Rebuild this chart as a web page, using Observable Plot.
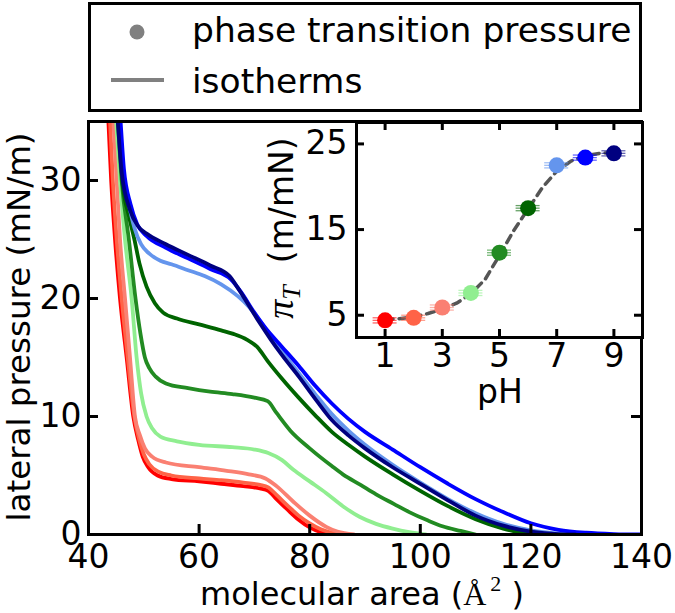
<!DOCTYPE html>
<html><head><meta charset="utf-8">
<script src="https://cdn.jsdelivr.net/npm/d3@7"></script>
<script src="https://cdn.jsdelivr.net/npm/@observablehq/plot@0.6"></script>
<style>
body{margin:0;background:#fff;}
#wrap{position:relative;width:675px;height:613px;overflow:hidden;font-family:"DejaVu Sans";}
#legend,#main,#inset{position:absolute;}
#legend{left:0;top:0;}
#main{left:0;top:112px;}
#inset{left:240px;top:112px;}
</style></head><body><div id="wrap"><div id="legend"></div><div id="main"></div><div id="inset"></div></div>
<script>
// ---------- data ----------
const phValues = [1, 2, 3, 4, 5, 6, 7, 8, 9];
const phColors = ["#ff0000", "#ff6347", "#fa8072", "#90ee90", "#228b22", "#006400", "#6495ed", "#0000ff", "#000080"];

// isotherms: [molecular area (Å²), lateral pressure (mN/m)]
const isotherm_pH1 = [[43.4,37],[43.6,35],[44.1,30],[44.8,25],[45.7,20],[46.9,15],[48.1,10],[49.0,8],[49.8,6.6],[50.8,5.7],[52.5,5.0],[55,4.7],[60,4.5],[64,4.3],[68,4.1],[71,3.9],[72.5,3.7],[74,3.0],[76,2.1],[78,1.25],[80,0.6],[82,0.2],[84,0]];
const isotherm_pH2 = [[43.7,37],[43.9,35],[44.4,30],[45.1,25],[46.0,20],[47.1,15],[48.3,10],[49.2,8],[50.0,6.8],[51.0,5.95],[52.7,5.3],[55,5.0],[60,4.75],[64,4.6],[68,4.4],[71,4.2],[72.5,4.0],[74,3.35],[76,2.45],[78,1.6],[80,0.95],[82,0.45],[84,0.15],[86,0]];
const isotherm_pH3 = [[44.2,37],[44.5,35],[45.1,30],[45.7,25],[46.6,20],[47.5,15],[48.4,10],[49.3,8.4],[50.2,7.3],[51.5,6.6],[54,6.1],[60,5.7],[65,5.4],[69,5.1],[72,4.75],[74,4.1],[77,2.8],[80,1.6],[83,0.65],[85,0.25],[88,0]];
const isotherm_pH4 = [[44.7,37],[45.0,35],[45.7,30],[46.6,25],[47.8,20],[48.7,15],[49.5,12],[50.5,10],[51.5,9],[53,8.3],[56,7.9],[60,7.6],[66,7.4],[70,7.2],[72.5,6.9],[75,6.3],[77,5.5],[80,4.5],[83,3.5],[86,2.4],[89,1.5],[92,0.9],[95,0.5],[98,0.2],[101,0]];
const isotherm_pH5 = [[45.0,37],[45.3,35],[46.0,30],[47.3,25],[48.5,20],[49.4,17],[50.2,15],[51,14.1],[52.1,13.4],[54,12.8],[58,12.4],[62,12.1],[66,11.9],[70,11.6],[72.4,11.3],[74,10.3],[76.5,8.8],[80,7.3],[84,5.8],[86,5.1],[89.2,4.2],[92,3.4],[95.2,2.6],[98,1.9],[101.3,1.2],[104,0.7],[107.3,0.3],[110,0]];
const isotherm_pH6 = [[45.2,37],[45.5,35],[46.1,30],[47.3,27],[48.3,25],[49.2,23],[50.5,21],[52,19.6],[53.5,18.8],[56,18.3],[60,17.8],[64,17.3],[66.2,17.0],[68.7,16.5],[70.5,15.9],[72.4,14.7],[75,13.2],[78,11.6],[81,10.1],[84,8.7],[87,7.6],[90,6.6],[95,5.1],[100,3.7],[105,2.4],[110,1.3],[115,0.5],[119,0.1],[122,0]];
const isotherm_pH7 = [[45.2,37],[45.5,35],[46.2,31],[47.3,28],[48.3,26],[49.5,24.6],[51,23.8],[53,23.2],[55,22.9],[58,22.4],[61,21.9],[64,21.2],[67,20.2],[69,19.3],[71,18.1],[73,16.8],[75,15.5],[78,13.7],[81,11.9],[84,10.2],[87,8.8],[90,7.6],[95,5.9],[100,4.4],[105,3.0],[110,1.8],[115,0.9],[120,0.35],[125,0.08],[130,0]];
const isotherm_pH8 = [[45.5,37],[45.8,35],[46.4,31],[47.6,28],[48.8,26.3],[50.5,25.3],[54,24.3],[58,23.4],[62,22.5],[65.8,21.6],[67.5,20.6],[70,18.8],[72,17.5],[75,15.9],[78,14.3],[81,12.6],[84,11.1],[87,9.8],[90,8.7],[95,7.2],[100,5.7],[105,4.3],[110,3.0],[115,1.9],[120,0.95],[125,0.4],[130,0.15],[135,0.04],[140,0]];
const isotherm_pH9 = [[45.0,37],[45.3,35],[46.0,30.7],[47.5,27.5],[49,26.1],[50.5,25.5],[54,24.6],[58,23.7],[62,22.8],[65.5,21.9],[67,20.9],[69,19.4],[71,17.9],[73,16.5],[75,15.2],[78,13.4],[81,11.5],[84,9.7],[87,8.4],[90,7.3],[95,5.7],[100,4.3],[105,2.9],[110,1.6],[115,0.75],[120,0.25],[125,0.03],[128,0]];
const isotherms = [isotherm_pH1, isotherm_pH2, isotherm_pH3, isotherm_pH4, isotherm_pH5, isotherm_pH6, isotherm_pH7, isotherm_pH8, isotherm_pH9];

// inset: phase transition pressure vs pH
const transitionPressure = [4.4, 4.7, 5.9, 7.6, 12.3, 17.5, 22.5, 23.4, 23.9];
const transitionError = [0.3, 0.3, 0.3, 0.3, 0.3, 0.3, 0.3, 0.3, 0.3];
const fitPH = [1, 1.5, 2, 2.5, 3, 3.5, 4, 4.5, 5, 5.5, 6, 6.5, 7, 7.5, 8, 8.5, 9];
const fitPressure = [4.5, 4.6, 4.8, 5.2, 5.7, 6.4, 7.5, 9.2, 12.0, 14.9, 17.4, 19.9, 21.8, 23.0, 23.6, 23.9, 24.0];

// ticks
const mainXTicks = [40, 60, 80, 100, 120, 140];
const mainYTicks = [0, 10, 20, 30];
const insetXTicks = [1, 3, 5, 7, 9];
const insetYTicks = [5, 15, 25];

// ---------- legend ----------
const lg = d3.create("svg").attr("width", 675).attr("height", 116).style("display", "block");
lg.append("rect").attr("x", 89.5).attr("y", 3.5).attr("width", 551).attr("height", 107)
  .attr("fill", "white").attr("stroke", "black").attr("stroke-width", 3);
lg.append("circle").attr("cx", 137).attr("cy", 32).attr("r", 7.5).attr("fill", "#808080");
lg.append("line").attr("x1", 111).attr("x2", 164).attr("y1", 80).attr("y2", 80)
  .attr("stroke", "#808080").attr("stroke-width", 4);
lg.append("text").attr("x", 192).attr("y", 42).attr("font-size", 34.5).attr("font-family", "DejaVu Sans").text("phase transition pressure");
lg.append("text").attr("x", 192).attr("y", 93).attr("font-size", 34.5).attr("font-family", "DejaVu Sans").text("isotherms");
document.getElementById("legend").append(lg.node());

// ---------- main plot ----------
const lineData = isotherms.flatMap((arr, i) => arr.map(([a, p]) => ({area: a, pressure: p, pH: phValues[i]})));
const mainTickLenY = 10 / 11.8;  // 10px in pressure units
const mainTickLenX = 10 / 5.53;  // 10px in area units

const main = Plot.plot({
  width: 675, height: 501,
  marginTop: 9, marginBottom: 79, marginLeft: 88, marginRight: 34,
  style: {fontFamily: "DejaVu Sans", fontSize: "33px", background: "none", color: "black", overflow: "visible"},
  x: {domain: [40, 140]},
  y: {domain: [0, 35]},
  color: {domain: phValues, range: phColors},
  marks: [
    Plot.line(lineData, {x: "area", y: "pressure", z: "pH", stroke: "pH", strokeWidth: 3.8, curve: "monotone-x", clip: true}),
    Plot.ruleX(mainXTicks.slice(1, -1), {x: d => d, y1: 0, y2: mainTickLenY, strokeWidth: 3}),
    Plot.ruleY(mainYTicks.slice(1), {y: d => d, x1: 40, x2: 40 + mainTickLenX, strokeWidth: 3}),
    Plot.ruleY(mainYTicks.slice(1), {y: d => d, x1: 140 - mainTickLenX, x2: 140, strokeWidth: 3}),
    Plot.frame({stroke: "black", strokeWidth: 3}),
    Plot.axisX(mainXTicks, {tickSize: 0, tickPadding: 10, fontSize: 33, label: null}),
    Plot.axisY(mainYTicks, {tickSize: 0, tickPadding: 7, fontSize: 33, label: null})
  ]
});
const ms = d3.select(main);
ms.append("text").attr("x", 362).attr("y", 493).attr("text-anchor", "middle")
  .attr("font-size", 32).attr("font-family", "DejaVu Sans")
  .call(t => {
    t.append("tspan").text("molecular area (");
    t.append("tspan").attr("font-family", "Liberation Serif").text("Å");
    t.append("tspan").attr("font-family", "Liberation Serif").attr("font-size", 22).attr("dy", -14).attr("dx", 4).text("2");
    t.append("tspan").attr("dy", 14).text(" )");
  });
ms.append("text").attr("transform", "translate(30,215) rotate(-90)").attr("text-anchor", "middle")
  .attr("font-size", 32.5).attr("font-family", "DejaVu Sans").text("lateral pressure (mN/m)");
document.getElementById("main").append(main);

// ---------- inset ----------
const pts = phValues.map((ph, i) => ({pH: ph, p: transitionPressure[i], e: transitionError[i], c: phColors[i]}));
const fitData = fitPH.map((ph, i) => ({pH: ph, p: fitPressure[i]}));
const insetTickLenY = 8 / 8.55;
const insetTickLenX = 8 / 28.6;
const capHalf = 0.42;

const inset = Plot.plot({
  width: 435, height: 300,
  marginLeft: 116, marginRight: 33, marginTop: 10, marginBottom: 75,
  style: {fontFamily: "DejaVu Sans", fontSize: "33px", background: "none", color: "black", overflow: "visible"},
  x: {domain: [0, 10]},
  y: {domain: [2.4, 27.5]},
  marks: [
    Plot.frame({fill: "white"}),
    Plot.line(fitData, {x: "pH", y: "p", stroke: "#555555", strokeWidth: 3.5, strokeDasharray: "8,6"}),
    Plot.ruleY(pts, {y: d => d.p + d.e, x1: d => d.pH - capHalf, x2: d => d.pH + capHalf, stroke: d => d.c, strokeOpacity: 0.6, strokeWidth: 1.3}),
    Plot.ruleY(pts, {y: d => d.p - d.e, x1: d => d.pH - capHalf, x2: d => d.pH + capHalf, stroke: d => d.c, strokeOpacity: 0.6, strokeWidth: 1.3}),
    Plot.ruleY(pts, {y: "p", x1: d => d.pH - capHalf, x2: d => d.pH + capHalf, stroke: d => d.c, strokeOpacity: 0.6, strokeWidth: 1.3}),
    Plot.dot(pts, {x: "pH", y: "p", fill: d => d.c, r: 8}),
    Plot.ruleX(insetXTicks, {x: d => d, y1: 2.4, y2: 2.4 + insetTickLenY, strokeWidth: 3}),
    Plot.ruleX(insetXTicks, {x: d => d, y1: 27.5 - insetTickLenY, y2: 27.5, strokeWidth: 3}),
    Plot.ruleY(insetYTicks, {y: d => d, x1: 0, x2: insetTickLenX, strokeWidth: 3}),
    Plot.ruleY(insetYTicks, {y: d => d, x1: 10 - insetTickLenX, x2: 10, strokeWidth: 3}),
    Plot.frame({stroke: "black", strokeWidth: 3}),
    Plot.axisX(insetXTicks, {tickSize: 0, tickPadding: 6, fontSize: 33, label: null}),
    Plot.axisY(insetYTicks, {tickSize: 0, tickPadding: 9, fontSize: 33, label: null})
  ]
});
const is = d3.select(inset);
is.append("text").attr("x", 260).attr("y", 291).attr("text-anchor", "middle")
  .attr("font-size", 33).attr("font-family", "DejaVu Sans").text("pH");
is.append("text").attr("transform", "translate(53,116) rotate(-90)").attr("text-anchor", "middle")
  .attr("font-size", 33).attr("font-family", "DejaVu Sans")
  .call(t => {
    t.append("tspan").attr("font-family", "Liberation Serif").attr("font-style", "italic").attr("font-size", 38).text("π");
    t.append("tspan").attr("font-family", "Liberation Serif").attr("font-style", "italic").attr("font-size", 26).attr("dy", 7).text("T");
    t.append("tspan").attr("dy", -7).attr("dx", 22).text("(m/mN)");
  });
document.getElementById("inset").append(inset);
</script>
</body></html>
